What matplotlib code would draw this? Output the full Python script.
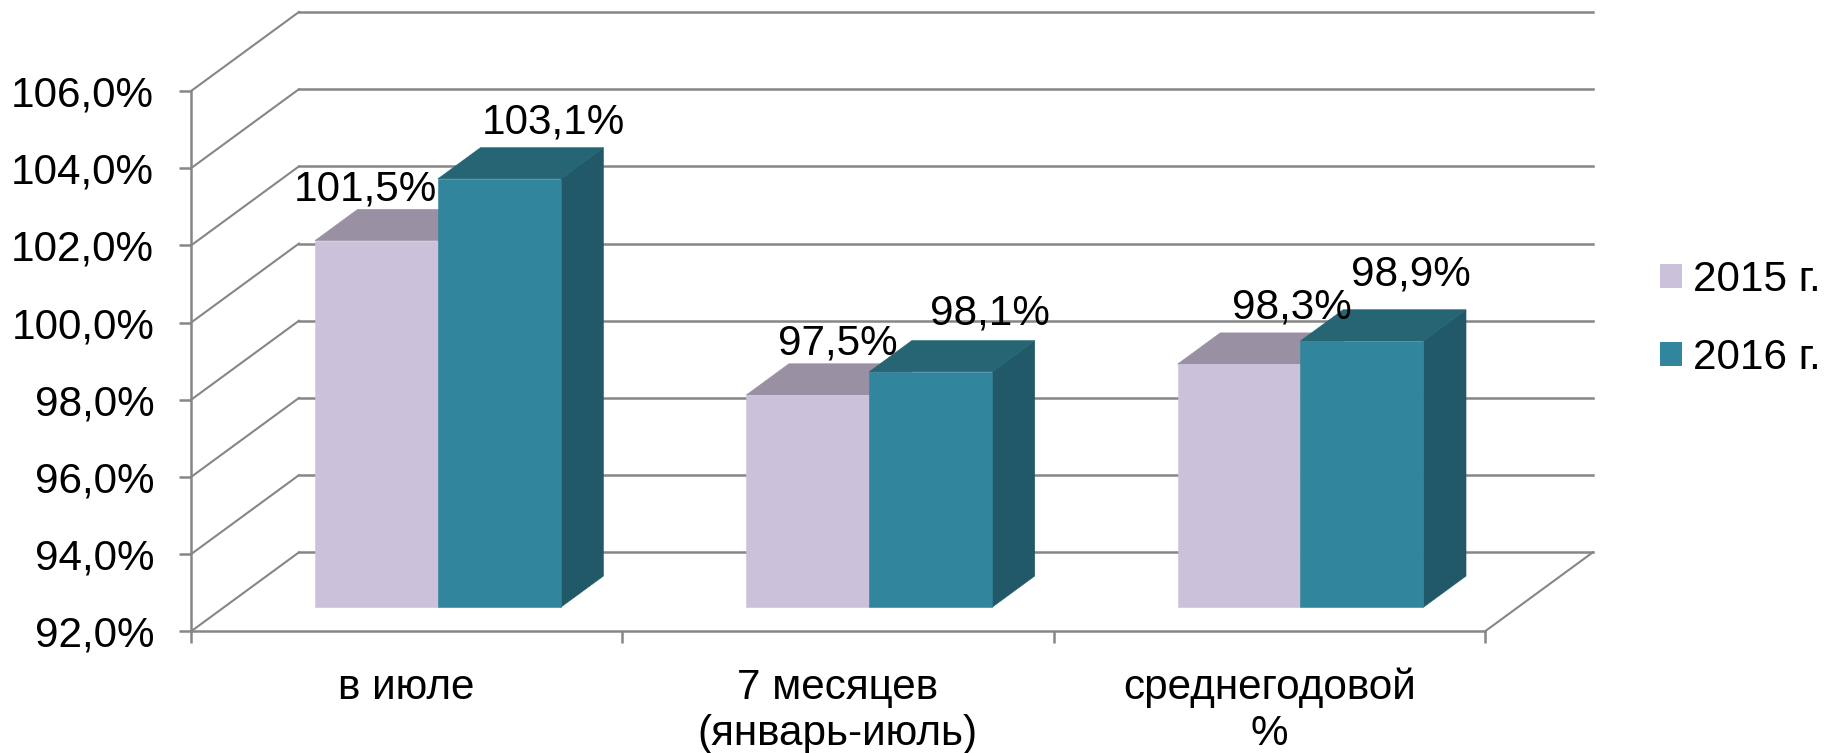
import matplotlib
matplotlib.use('Agg')
import matplotlib.pyplot as plt
from matplotlib.patches import Patch, Polygon

plt.rcParams['font.family'] = ['Liberation Sans', 'DejaVu Sans']

categories = ['в июле', '7 месяцев\n(январь-июль)', 'среднегодовой\n%']
series_names = ['2015 г.', '2016 г.']
values_2015 = [101.5, 97.5, 98.3]
values_2016 = [103.1, 98.1, 98.9]
y_ticks = [92, 94, 96, 98, 100, 102, 104, 106]
y_labels = ['92,0%', '94,0%', '96,0%', '98,0%', '100,0%', '102,0%', '104,0%', '106,0%']

# oblique depth of the fake 3d box, in data units
DEPTH_X = 0.2504
DEPTH_Y = 2.05
BAR_WIDTH = 0.285
BAR_START = 0.211
BAR_NEAR = 0.305
BAR_FAR = 0.70
GRID = '#868686'
FONT = 30.4


def proj(x, v, d):
    return x + d * DEPTH_X, v + d * DEPTH_Y


def draw_bar(ax, x0, value, front, top, side):
    x1 = x0 + BAR_WIDTH
    base = y_ticks[0]
    ax.add_patch(Polygon([proj(x1, base, BAR_NEAR), proj(x1, base, BAR_FAR),
                          proj(x1, value, BAR_FAR), proj(x1, value, BAR_NEAR)],
                         fc=side, ec=side, lw=0.4, zorder=3))
    ax.add_patch(Polygon([proj(x0, value, BAR_NEAR), proj(x1, value, BAR_NEAR),
                          proj(x1, value, BAR_FAR), proj(x0, value, BAR_FAR)],
                         fc=top, ec=top, lw=0.4, zorder=3))
    ax.add_patch(Polygon([proj(x0, base, BAR_NEAR), proj(x1, base, BAR_NEAR),
                          proj(x1, value, BAR_NEAR), proj(x0, value, BAR_NEAR)],
                         fc=front, ec=front, lw=0.4, zorder=4))


fig = plt.figure(figsize=(18.25, 7.53), dpi=100)
ax = fig.add_axes([0, 0, 1, 1])
ax.set_xlim(-0.4428, 3.7886)
ax.set_ylim(88.85, 108.36)

# walls
for v in y_ticks:
    ax.plot(*zip(proj(0, v, 0), proj(0, v, 1)), color=GRID, lw=1.5, zorder=1)
    ax.plot(*zip(proj(0, v, 1), proj(3, v, 1)), color=GRID, lw=1.8, zorder=1)
ax.plot(*zip(proj(3, 92, 0), proj(3, 92, 1)), color=GRID, lw=1.5, zorder=1)

colors_2015 = ('#CCC1DA', '#9A90A4', '#9A90A4')
colors_2016 = ('#31859C', '#256574', '#215968')
# per-label nudges in points, the labels were placed by hand in the original
nudge_2015 = [(-7.6, 29), (22, 29.5), (37.8, 33.1)]
nudge_2016 = [(38.9, 32.4), (42.8, 33.8), (35.3, 39.6)]

for i in range(3):
    x0 = i + BAR_START
    draw_bar(ax, x0, values_2015[i], *colors_2015)
    draw_bar(ax, x0 + BAR_WIDTH, values_2016[i], *colors_2016)
    for k, (vals, nudge) in enumerate([(values_2015, nudge_2015), (values_2016, nudge_2016)]):
        xy = proj(x0 + BAR_WIDTH * (k + 0.5), vals[i], BAR_NEAR)
        ax.annotate(f'{vals[i]:.1f}%'.replace('.', ','), xy, xytext=nudge[i],
                    textcoords='offset points', ha='center', va='baseline',
                    fontsize=FONT, color='black', zorder=6)

for name in ['top', 'right']:
    ax.spines[name].set_visible(False)
ax.spines['left'].set_position(('data', 0))
ax.spines['bottom'].set_position(('data', 92))
ax.spines['left'].set_bounds(92, 106)
ax.spines['bottom'].set_bounds(0, 3)
for name in ['left', 'bottom']:
    ax.spines[name].set_color(GRID)
    ax.spines[name].set_linewidth(1.8)

ax.set_yticks(y_ticks, y_labels)
ax.set_xticks([0, 1, 2, 3], [])
ax.set_xticks([0.5, 1.5, 2.5], categories, minor=True)
ax.tick_params(axis='both', which='major', color=GRID, width=1.8, length=8.5,
               labelsize=FONT, labelcolor='black')
ax.tick_params(axis='y', pad=18)
ax.tick_params(axis='x', which='minor', length=0, labelsize=FONT, pad=26)

handles = [Patch(fc=colors_2015[0], ec='none'), Patch(fc=colors_2016[0], ec='none')]
ax.legend(handles, series_names, loc='center left', bbox_to_anchor=(0.9096, 0.5765),
          frameon=False, fontsize=FONT, handlelength=0.52, handleheight=0.52,
          handletextpad=0.26, labelspacing=0.9, borderpad=0, borderaxespad=0)

fig.savefig('out.png', dpi=100)
